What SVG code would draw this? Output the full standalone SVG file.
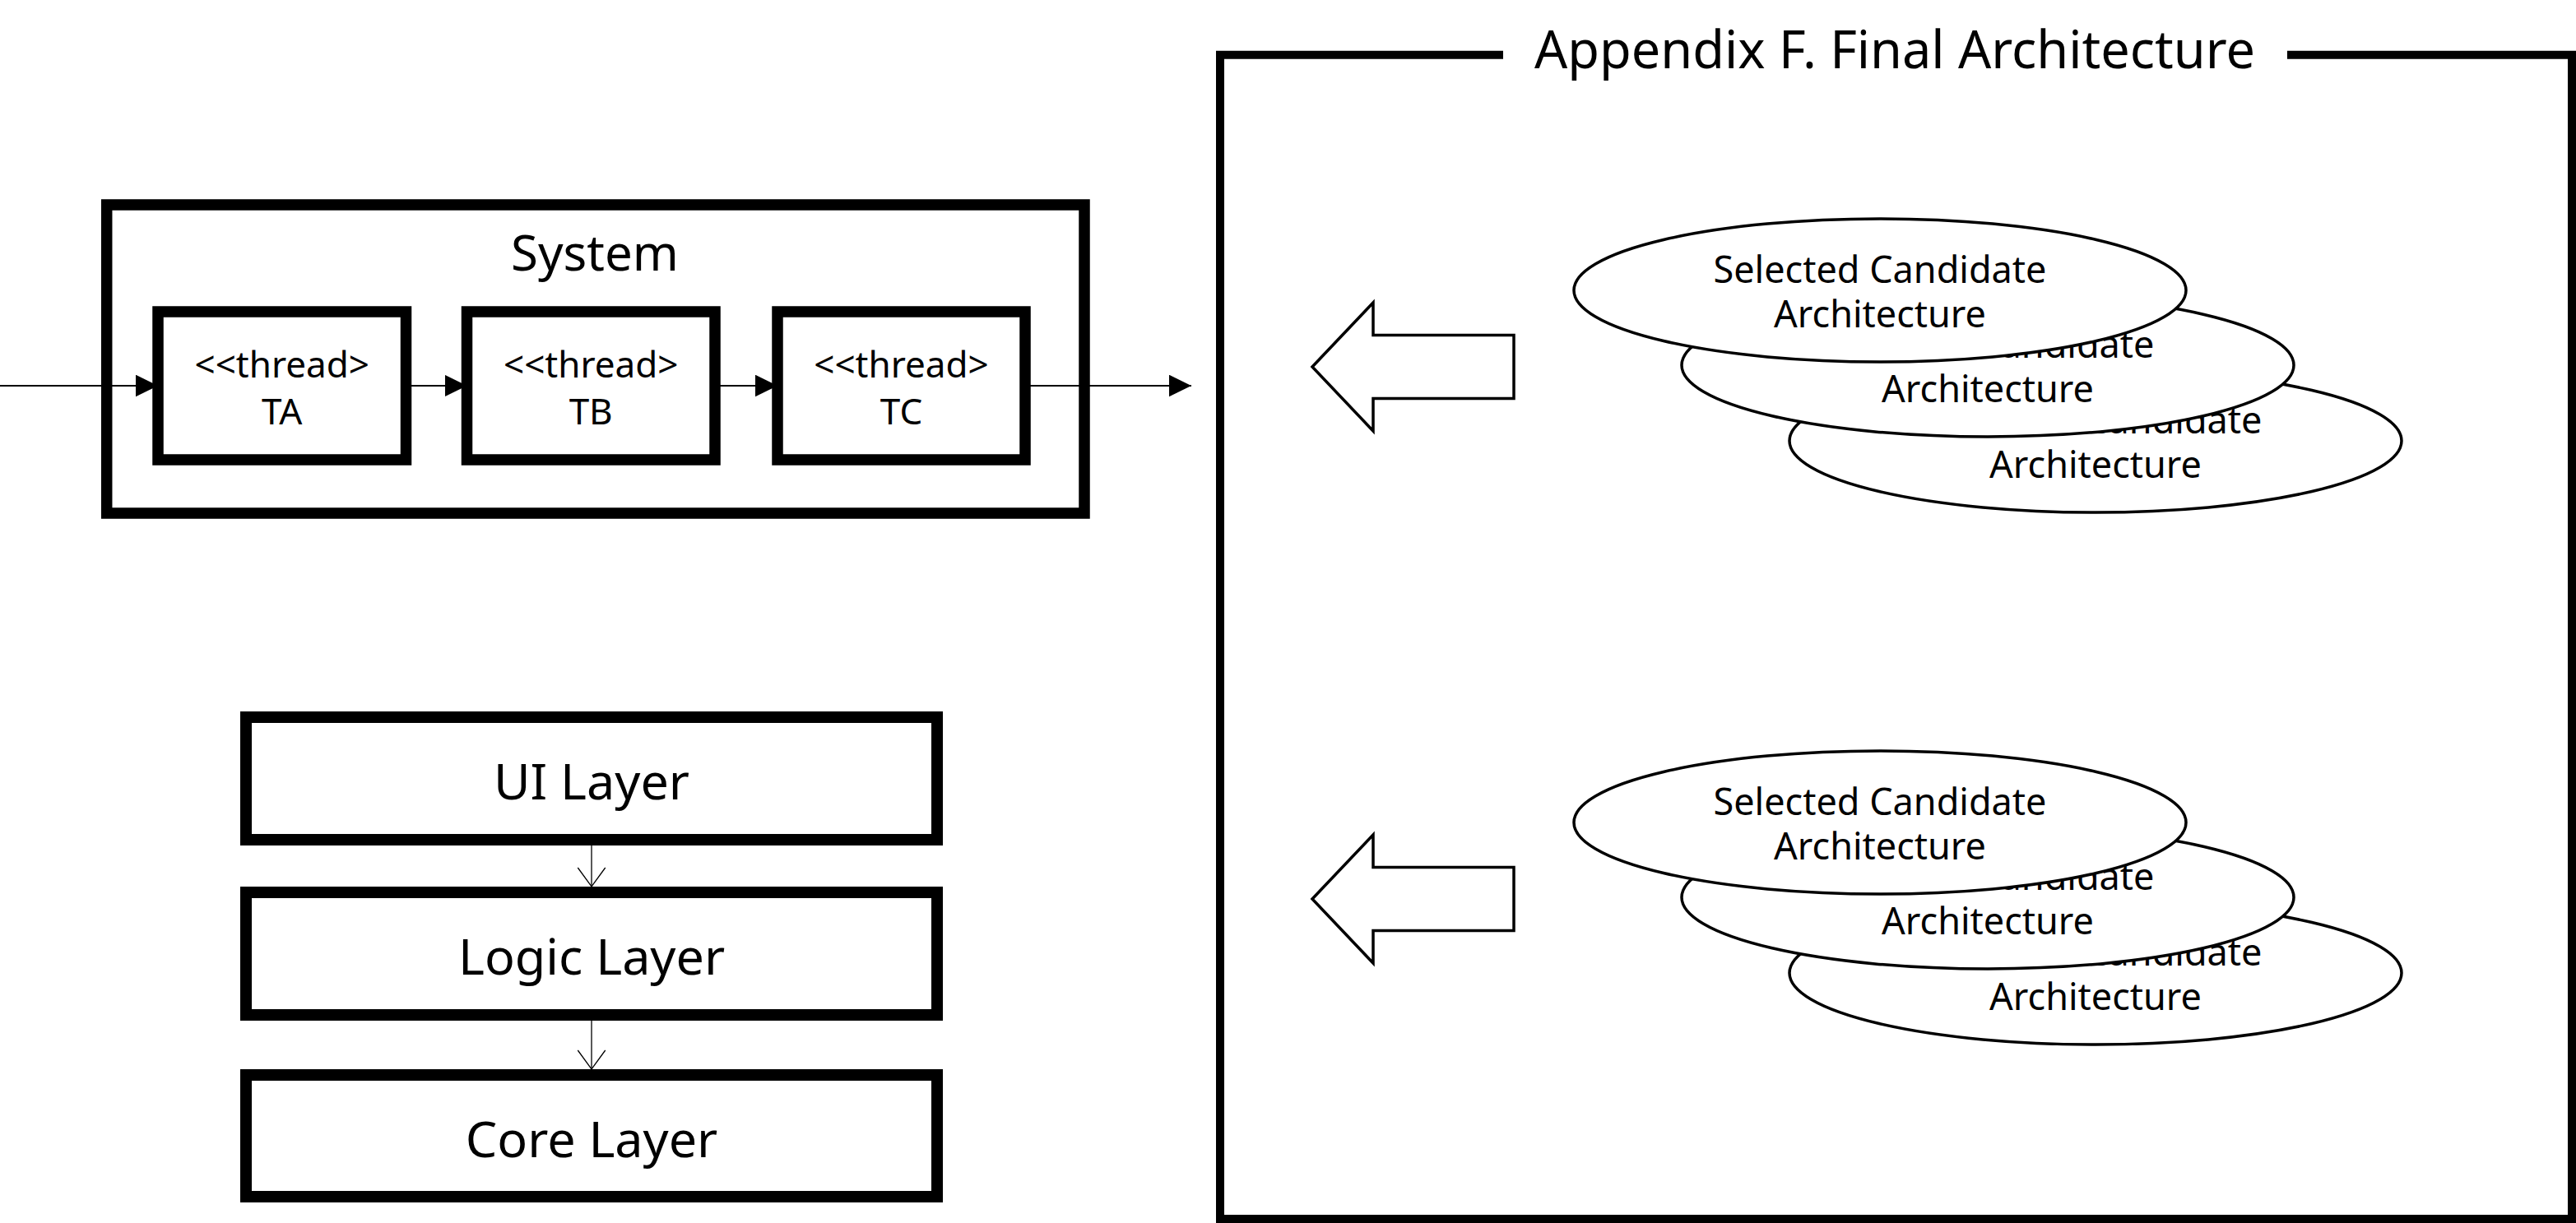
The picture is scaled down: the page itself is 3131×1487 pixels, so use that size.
<svg xmlns="http://www.w3.org/2000/svg" width="3131" height="1487" viewBox="0 0 3131 1487">
<style>
text{font-family:"Noto Sans","Open Sans","Liberation Sans",sans-serif;fill:#000;text-anchor:middle}
.box{fill:#fff;stroke:#000;stroke-width:13.5}
.lay{fill:#fff;stroke:#000;stroke-width:14}
.thin{fill:none;stroke:#000;stroke-width:2}
.vline{fill:none;stroke:#000;stroke-width:1.3}
.ell{fill:#fff;stroke:#000;stroke-width:3.5}
.blk{fill:#fff;stroke:#000;stroke-width:3.5;stroke-linejoin:miter}
.thr{font-size:44px}
.t45{font-size:45px}
.t61{font-size:61px}
</style>
<defs>
<marker id="tri" markerUnits="userSpaceOnUse" markerWidth="28" markerHeight="28" refX="27" refY="13.3" orient="auto">
<path d="M0,0 L27,13.3 L0,26.6 z" fill="#000"/>
</marker>
<marker id="vee" markerUnits="userSpaceOnUse" markerWidth="26" markerHeight="36" refX="23" refY="16.7" orient="auto" overflow="visible">
<path d="M0,0 L23,16.7 L0,33.4" fill="none" stroke="#000" stroke-width="1.3"/>
</marker>
</defs>
<rect width="3131" height="1487" fill="#fff"/>

<g id="frame">
<path d="M1827,66.7 H1483 V1482 H3126 V66.7 H2780" fill="none" stroke="#000" stroke-width="10" stroke-linejoin="miter"/>
<text x="2303" y="83" style="font-size:63px">Appendix F. Final Architecture</text>
</g>

<g id="system">
<rect class="box" x="129.7" y="249" width="1188.3" height="375"/>
<text x="723" y="329" style="font-size:60px">System</text>
</g>

<g id="connectors">
<path class="thin" d="M0,469 H192" marker-end="url(#tri)"/>
<path class="thin" d="M493.5,469 H567.5" marker-end="url(#tri)"/>
<path class="thin" d="M869,469 H945" marker-end="url(#tri)"/>
<path class="thin" d="M1246,469 H1448" marker-end="url(#tri)"/>
<path class="vline" d="M719,1021 V1078" marker-end="url(#vee)"/>
<path class="vline" d="M719,1234 V1300" marker-end="url(#vee)"/>
</g>

<g id="thread-ta">
<rect class="box" x="192" y="379" width="301.5" height="180"/>
<text class="thr" x="342.7" y="459">&lt;&lt;thread&gt;</text>
<text class="thr" x="342.7" y="516">TA</text>
</g>
<g id="thread-tb">
<rect class="box" x="567.5" y="379" width="301.5" height="180"/>
<text class="thr" x="718.2" y="459">&lt;&lt;thread&gt;</text>
<text class="thr" x="718.2" y="516">TB</text>
</g>
<g id="thread-tc">
<rect class="box" x="945" y="379" width="301" height="180"/>
<text class="thr" x="1095.5" y="459">&lt;&lt;thread&gt;</text>
<text class="thr" x="1095.5" y="516">TC</text>
</g>

<g id="ui-layer">
<rect class="lay" x="299" y="872" width="840" height="149"/>
<text class="t61" x="719" y="972">UI Layer</text>
</g>
<g id="logic-layer">
<rect class="lay" x="299" y="1085" width="840" height="149"/>
<text class="t61" x="719" y="1185">Logic Layer</text>
</g>
<g id="core-layer">
<rect class="lay" x="299" y="1307" width="840" height="148"/>
<text class="t61" x="719" y="1407">Core Layer</text>
</g>

<g id="arrow-1">
<polygon class="blk" points="1595,446 1669,368 1669,407.5 1840,407.5 1840,484.5 1669,484.5 1669,524"/>
</g>
<g id="arrow-2">
<polygon class="blk" points="1595,1093 1669,1015 1669,1054.5 1840,1054.5 1840,1131.5 1669,1131.5 1669,1171"/>
</g>

<g id="candidates-1">
<g id="cand-1c">
<ellipse class="ell" cx="2547" cy="536" rx="372" ry="87"/>
<text class="t45" x="2547" y="527">Selected Candidate</text>
<text class="t45" x="2547" y="581">Architecture</text>
</g>
<g id="cand-1b">
<ellipse class="ell" cx="2416" cy="444" rx="372" ry="87"/>
<text class="t45" x="2416" y="435">Selected Candidate</text>
<text class="t45" x="2416" y="489">Architecture</text>
</g>
<g id="cand-1a">
<ellipse class="ell" cx="2285" cy="353" rx="372" ry="87"/>
<text class="t45" x="2285" y="344">Selected Candidate</text>
<text class="t45" x="2285" y="398">Architecture</text>
</g>
</g>

<g id="candidates-2">
<g id="cand-2c">
<ellipse class="ell" cx="2547" cy="1183" rx="372" ry="87"/>
<text class="t45" x="2547" y="1174">Selected Candidate</text>
<text class="t45" x="2547" y="1228">Architecture</text>
</g>
<g id="cand-2b">
<ellipse class="ell" cx="2416" cy="1091" rx="372" ry="87"/>
<text class="t45" x="2416" y="1082">Selected Candidate</text>
<text class="t45" x="2416" y="1136">Architecture</text>
</g>
<g id="cand-2a">
<ellipse class="ell" cx="2285" cy="1000" rx="372" ry="87"/>
<text class="t45" x="2285" y="991">Selected Candidate</text>
<text class="t45" x="2285" y="1045">Architecture</text>
</g>
</g>
</svg>
